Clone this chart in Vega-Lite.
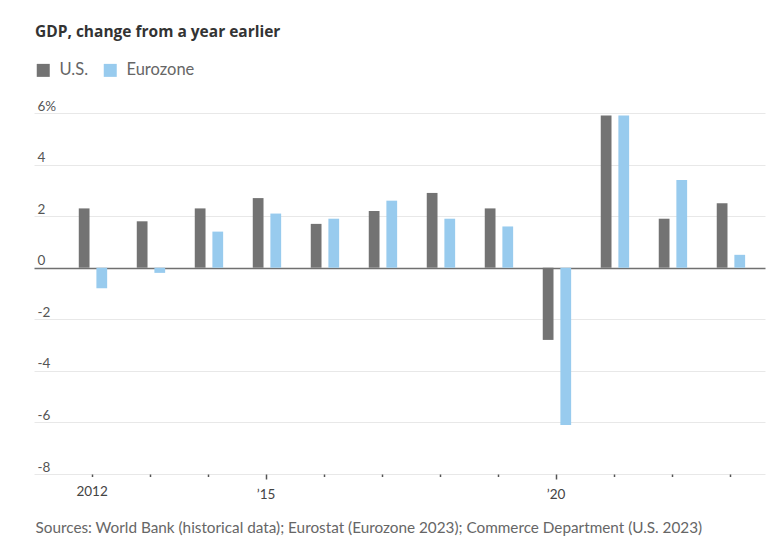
{
  "$schema": "https://vega.github.io/schema/vega-lite/v6.json",
  "autosize": {"type": "none"},
  "width": 731,
  "height": 361,
  "padding": {"left": 34, "top": 113, "right": 4, "bottom": 83},
  "background": "white",
  "title": {
    "text": "GDP, change from a year earlier",
    "anchor": "start",
    "frame": "group",
    "font": "Open Sans",
    "fontSize": 15.5,
    "fontWeight": "bold",
    "color": "#333333",
    "dx": 1,
    "offset": 0,
    "dy": -22
  },
  "data": {
    "values": [
      {"year": 2012, "series": "U.S.", "value": 2.3},
      {"year": 2012, "series": "Eurozone", "value": -0.8},
      {"year": 2013, "series": "U.S.", "value": 1.8},
      {"year": 2013, "series": "Eurozone", "value": -0.2},
      {"year": 2014, "series": "U.S.", "value": 2.3},
      {"year": 2014, "series": "Eurozone", "value": 1.4},
      {"year": 2015, "series": "U.S.", "value": 2.7},
      {"year": 2015, "series": "Eurozone", "value": 2.1},
      {"year": 2016, "series": "U.S.", "value": 1.7},
      {"year": 2016, "series": "Eurozone", "value": 1.9},
      {"year": 2017, "series": "U.S.", "value": 2.2},
      {"year": 2017, "series": "Eurozone", "value": 2.6},
      {"year": 2018, "series": "U.S.", "value": 2.9},
      {"year": 2018, "series": "Eurozone", "value": 1.9},
      {"year": 2019, "series": "U.S.", "value": 2.3},
      {"year": 2019, "series": "Eurozone", "value": 1.6},
      {"year": 2020, "series": "U.S.", "value": -2.8},
      {"year": 2020, "series": "Eurozone", "value": -6.1},
      {"year": 2021, "series": "U.S.", "value": 5.9},
      {"year": 2021, "series": "Eurozone", "value": 5.9},
      {"year": 2022, "series": "U.S.", "value": 1.9},
      {"year": 2022, "series": "Eurozone", "value": 3.4},
      {"year": 2023, "series": "U.S.", "value": 2.5},
      {"year": 2023, "series": "Eurozone", "value": 0.5}
    ]
  },
  "mark": {"type": "bar"},
  "encoding": {
    "x": {
      "field": "year",
      "type": "ordinal",
      "scale": {"paddingInner": 0, "paddingOuter": 0.302, "align": 0.83},
      "axis": {
        "title": "Sources: World Bank (historical data); Eurostat (Eurozone 2023); Commerce Department (U.S. 2023)",
        "titleAnchor": "start",
        "titleAlign": "left",
        "titleBaseline": "alphabetic",
        "titleX": 1,
        "titleY": 58,
        "titleFont": "Lato",
        "titleFontSize": 15.3,
        "titleFontWeight": "normal",
        "titleColor": "#666666",
        "labelAngle": 0,
        "labelExpr": "datum.value == 2012 ? '2012' : datum.value == 2015 ? '\u201915' : datum.value == 2020 ? '\u201920' : ''",
        "labelFont": "Lato",
        "labelFontSize": 13.5,
        "labelColor": "#444444",
        "labelPadding": 8,
        "labelBaseline": "top",
        "domain": false,
        "grid": false,
        "ticks": true,
        "tickColor": "#555555",
        "tickWidth": 1.5,
        "tickSize": {"condition": {"test": "datum.value == 2015 || datum.value == 2020", "value": 5}, "value": 2.5}
      }
    },
    "xOffset": {
      "field": "series",
      "type": "nominal",
      "sort": ["U.S.", "Eurozone"],
      "scale": {"paddingInner": 0.39, "paddingOuter": 0.84, "align": 0.53}
    },
    "y": {
      "field": "value",
      "type": "quantitative",
      "scale": {"domain": [-8, 6], "nice": false},
      "axis": {
        "title": null,
        "values": [-8, -6, -4, -2, 0, 2, 4, 6],
        "labelExpr": "datum.value == 6 ? '6%' : '' + datum.value",
        "labelAlign": "left",
        "labelBaseline": "alphabetic",
        "labelPadding": -3,
        "labelOffset": -3,
        "labelFont": "Lato",
        "labelFontSize": 13.5,
        "labelColor": "#555555",
        "domain": false,
        "ticks": false,
        "grid": true,
        "gridColor": {"condition": {"test": "datum.value === 0", "value": "#707070"}, "value": "#e8e8e8"},
        "gridWidth": {"condition": {"test": "datum.value === 0", "value": 1.5}, "value": 1}
      }
    },
    "color": {
      "field": "series",
      "type": "nominal",
      "sort": ["U.S.", "Eurozone"],
      "scale": {"domain": ["U.S.", "Eurozone"], "range": ["#737373", "#98cbee"]},
      "legend": {
        "title": null,
        "orient": "none",
        "legendX": 1,
        "legendY": -51,
        "direction": "horizontal",
        "symbolType": "square",
        "symbolSize": 169,
        "symbolStrokeWidth": 0,
        "symbolOpacity": 1,
        "labelFont": "Lato",
        "labelFontSize": 16.5,
        "labelColor": "#666666",
        "labelOffset": 8,
        "columnPadding": 13
      }
    }
  },
  "config": {
    "view": {"stroke": null}
  }
}
